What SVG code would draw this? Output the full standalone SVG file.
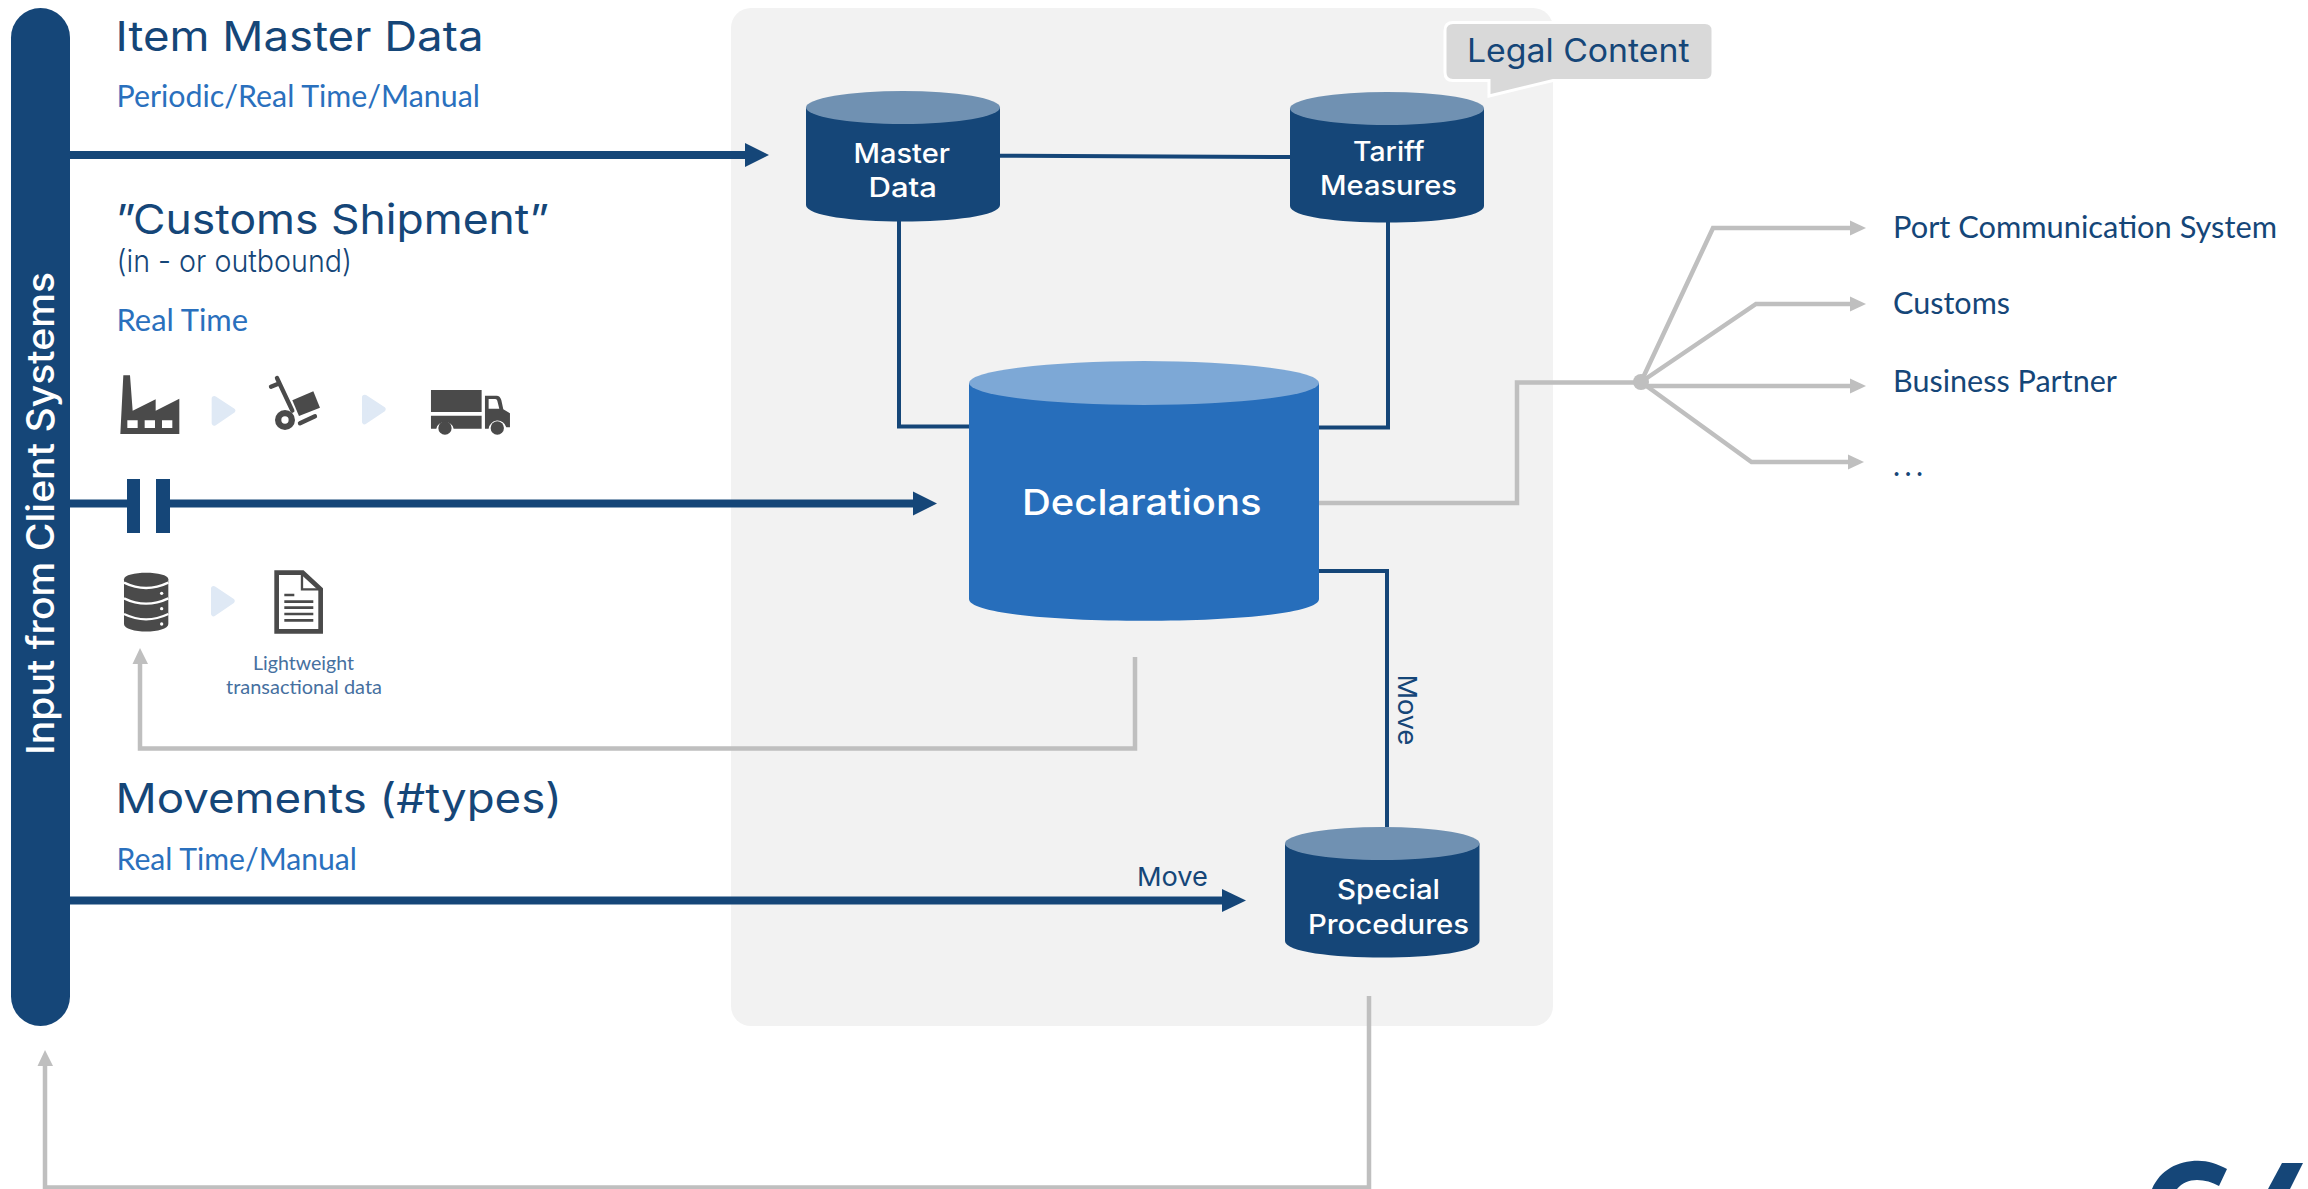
<svg xmlns="http://www.w3.org/2000/svg" width="2308" height="1189" viewBox="0 0 2308 1189">
<style>
text{font-family:"Inter","Liberation Sans",sans-serif;fill:#154678}
.h{font-size:41px}
.s{font-family:"Lato","Noto Sans",sans-serif;font-size:30px}
.sub{fill:#2a70bd}
.w{fill:#fff;font-weight:500;font-size:27px}
.g{fill:none;stroke:#bfbfbf;stroke-width:4.500}
.n{fill:none;stroke:#154678}
.nf{fill:#154678}
.gf{fill:#bfbfbf}
.ic{fill:#4a4a4a}
.t{fill:#dfe9f5;stroke:#dfe9f5;stroke-width:16;stroke-linejoin:round}
.l{font-family:"Lato","Noto Sans",sans-serif;font-size:20px;fill:#46709f}
</style>
<rect id="panel" x="731" y="8" width="822" height="1018" rx="20" fill="#f2f2f2"/>
<g id="connectors">
<path class="n" stroke-width="4" d="M1000 155.700L1290 157"/>
<path class="n" stroke-width="4" d="M899 221V426.500H969"/>
<path class="n" stroke-width="4" d="M1388 222V427.500H1319"/>
<path class="n" stroke-width="4" d="M1319 571H1387V827"/>
<path class="n" stroke-width="8" d="M70 155H746"/>
<path class="nf" d="M745 143L769 155L745 167Z"/>
<path class="n" stroke-width="8" d="M70 503.500H127M170 503.500H914"/>
<rect class="nf" x="127" y="479" width="13" height="54"/>
<rect class="nf" x="156" y="479" width="14" height="54"/>
<path class="nf" d="M913 491.500L937 503.500L913 515.500Z"/>
<path class="n" stroke-width="8" d="M70 900.500H1223"/>
<path class="nf" d="M1222 889L1246 900.500L1222 912Z"/>
<path class="g" d="M1319 503H1517V382.500H1641"/>
<path class="g" d="M1641 382L1713 228H1851"/>
<path class="g" d="M1641 382L1756 304H1851"/>
<path class="g" d="M1641 386H1851"/>
<path class="g" d="M1641 382L1751.500 462H1849"/>
<ellipse class="gf" cx="1641" cy="382" rx="8" ry="8"/>
<path class="gf" d="M1850 220.500L1866 228L1850 235.500Z"/>
<path class="gf" d="M1850 296.500L1866 304L1850 311.500Z"/>
<path class="gf" d="M1850 378.500L1866 386L1850 393.500Z"/>
<path class="gf" d="M1848 454.500L1864 462L1848 469.500Z"/>
<path class="g" d="M1135 657V748.500H140V663"/>
<path class="gf" d="M132.500 664L140 648L148 664Z"/>
<path class="g" d="M1369 996V1187.500H45V1065"/>
<path class="gf" d="M37.500 1066L45 1050L53 1066Z"/>
</g>
<g id="input-bar">
<rect class="nf" x="11" y="8" width="59" height="1018" rx="29.500"/>
<text transform="translate(53.500 755) rotate(-90)" textLength="483" lengthAdjust="spacingAndGlyphs" style="fill:#fff;font-size:38px;font-weight:500">Input from Client Systems</text>
</g>
<g id="item-master">
<text class="h" x="115.500" y="51" textLength="368" lengthAdjust="spacingAndGlyphs">Item Master Data</text>
<text class="s sub" x="116.500" y="107" textLength="363.500" lengthAdjust="spacingAndGlyphs">Periodic/Real Time/Manual</text>
</g>
<g id="customs-shipment">
<text class="h" x="116" y="234" textLength="433" lengthAdjust="spacingAndGlyphs">”Customs Shipment”</text>
<text x="116.500" y="272" font-size="31" font-weight="300" textLength="235.500" lengthAdjust="spacingAndGlyphs">(in - or outbound)</text>
<text class="s sub" x="116.500" y="331" textLength="131.500" lengthAdjust="spacingAndGlyphs">Real Time</text>
</g>
<g id="icons-top" transform="translate(100 350) scale(.3333)">
<path class="ic" d="M61 252L70 76H90L98 182L167 148V182L238 146V252ZM82 211V234H113V211ZM134 211V234H165V211ZM186 211V234H217V211Z" fill-rule="evenodd"/>
<path class="t" d="M343 146L398 182L343 219Z"/>
<path class="t" d="M794 142L849 178L794 215Z"/>
<path fill="none" stroke="#4a4a4a" stroke-width="13" stroke-linecap="round" d="M531 84L577 182M513 110L535 101M600 220L645 199"/>
<path class="ic" d="M577 151L640 124L660 173L597 198Z"/>
<circle class="ic" cx="555" cy="210" r="30"/>
<circle cx="555" cy="210" r="11" fill="#fff"/>
<path class="ic" d="M993 120H1145V186H993ZM993 197H1145V236H1061A27 27 0 0 0 1009 236H993Z"/>
<path class="ic" d="M1155 137H1190Q1200 137 1204 150L1210 178L1230 190V232H1219A27 27 0 0 0 1166 236H1155ZM1166 147V176H1198L1192 152Q1191 147 1186 147Z" fill-rule="evenodd"/>
<circle class="ic" cx="1035" cy="234" r="20"/>
<circle class="ic" cx="1192" cy="234" r="20"/>
</g>
<g id="icons-bottom" transform="translate(100 550) scale(.3333)">
<path class="ic" d="M72 88C72 62 205 62 205 88V222C205 252 72 252 72 222Z"/>
<path fill="none" stroke="#fff" stroke-width="7" d="M72 98Q138 130 205 98M72 145Q138 177 205 145M72 192Q138 224 205 192"/>
<circle cx="185" cy="130" r="5" fill="#fff"/><circle cx="185" cy="176" r="5" fill="#fff"/><circle cx="185" cy="222" r="5" fill="#fff"/>
<path class="t" d="M341 116L396 153L341 191Z"/>
<path fill="#fff" stroke="#4a4a4a" stroke-width="14" d="M530 68H608L662 118V244H530Z"/>
<path d="M610 84L645 116H610Z" fill="#fff"/>
<path fill="none" stroke="#4a4a4a" stroke-width="7" d="M606 66V118H664"/>
<path fill="none" stroke="#4a4a4a" stroke-width="8" d="M553 135H583M553 155H640M553 173H640M553 192H640M553 211H640"/>
</g>
<g id="lightweight">
<text class="l" x="253" y="670" textLength="101" lengthAdjust="spacingAndGlyphs">Lightweight</text>
<text class="l" x="226" y="694" textLength="156" lengthAdjust="spacingAndGlyphs">transactional data</text>
</g>
<g id="movements">
<text class="h" x="115.500" y="813" textLength="446.500" lengthAdjust="spacingAndGlyphs">Movements (#types)</text>
<text class="s sub" x="116.500" y="870" textLength="240.500" lengthAdjust="spacingAndGlyphs">Real Time/Manual</text>
<text x="1137" y="886" font-size="26" textLength="71" lengthAdjust="spacingAndGlyphs">Move</text>
<text transform="translate(1398 674.500) rotate(90)" font-size="26" textLength="71" lengthAdjust="spacingAndGlyphs">Move</text>
</g>
<g id="master-data">
<path class="nf" d="M806 107.500V205C806 227 1000 227 1000 205V107.500Z"/>
<ellipse cx="903" cy="107.500" rx="97" ry="16.500" fill="#7091b2"/>
<text class="w" x="853.500" y="163" textLength="96.500" lengthAdjust="spacingAndGlyphs">Master</text>
<text class="w" x="868.500" y="197" textLength="68.500" lengthAdjust="spacingAndGlyphs">Data</text>
</g>
<g id="tariff-measures">
<path class="nf" d="M1290 108.500V206C1290 228 1484 228 1484 206V108.500Z"/>
<ellipse cx="1387" cy="108.500" rx="97" ry="16.500" fill="#7091b2"/>
<text class="w" x="1353" y="161" textLength="71.500" lengthAdjust="spacingAndGlyphs">Tariff</text>
<text class="w" x="1320" y="195" textLength="137" lengthAdjust="spacingAndGlyphs">Measures</text>
</g>
<g id="declarations">
<path d="M969 383V599C969 628 1319 628 1319 599V383Z" fill="#276ebb"/>
<ellipse cx="1144" cy="383" rx="175" ry="22" fill="#7da8d6"/>
<text class="w" x="1022" y="514.500" textLength="239.500" lengthAdjust="spacingAndGlyphs" style="font-size:36px">Declarations</text>
</g>
<g id="special-procedures">
<path class="nf" d="M1285 843.500V941C1285 963 1479.500 963 1479.500 941V843.500Z"/>
<ellipse cx="1382.250" cy="843.500" rx="97.250" ry="16.500" fill="#7091b2"/>
<text class="w" x="1337" y="898.500" textLength="103" lengthAdjust="spacingAndGlyphs">Special</text>
<text class="w" x="1308" y="933.500" textLength="161" lengthAdjust="spacingAndGlyphs">Procedures</text>
</g>
<g id="legal-content">
<path d="M1453 22.500H1705Q1713 22.500 1713 30.500V72.500Q1713 80.500 1705 80.500H1553L1489 96V80.500H1453Q1445 80.500 1445 72.500V30.500Q1445 22.500 1453 22.500Z" fill="#d9d9d9" stroke="#fff" stroke-width="3"/>
<text x="1467" y="62" font-size="32" textLength="222.500" lengthAdjust="spacingAndGlyphs">Legal Content</text>
</g>
<g id="targets">
<text class="s" x="1893" y="238" textLength="384" lengthAdjust="spacingAndGlyphs">Port Communication System</text>
<text class="s" x="1893" y="314" textLength="117" lengthAdjust="spacingAndGlyphs">Customs</text>
<text class="s" x="1893" y="392" textLength="224" lengthAdjust="spacingAndGlyphs">Business Partner</text>
<text class="s" x="1893" y="475.500" textLength="30" lengthAdjust="spacing">...</text>
</g>
<g id="logo-fragment">
<path class="nf" d="M2152 1189C2160 1170 2178 1160.700 2198 1160.700C2208 1160.700 2218 1164 2227 1169L2219 1186C2212 1182 2205 1180 2197 1180C2189 1180 2182 1183 2177 1189Z"/>
<path class="nf" d="M2282 1163H2303L2290 1189H2268Z"/>
</g>
</svg>
